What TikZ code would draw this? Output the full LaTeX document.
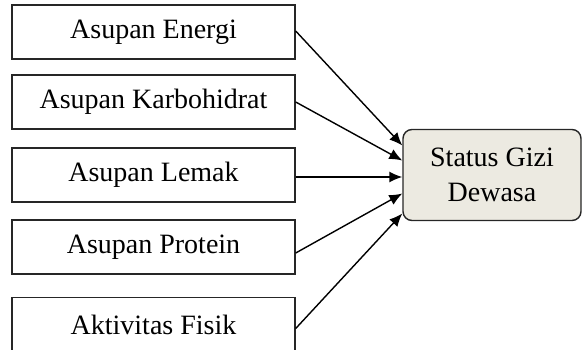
\documentclass[tikz,border=0pt]{standalone}
\usepackage{fontspec}
\setmainfont{Liberation Serif}
\usetikzlibrary{arrows.meta}
\begin{document}
\begin{tikzpicture}[
  box/.style={rectangle, draw=black!85, line width=1.4bp, minimum width=283bp, minimum height=54bp, inner sep=0pt, font=\fontsize{28bp}{35bp}\selectfont},
  result/.style={rectangle, rounded corners=9bp, draw=black!85, fill=statusfill, line width=1.4bp, minimum width=178bp, minimum height=91bp, align=center, font=\fontsize{28bp}{35bp}\selectfont},
  >={Latex[length=13bp,width=11bp]},
  link/.style={->, line width=1.4bp}
]
\definecolor{statusfill}{HTML}{ECEAE1}
\useasboundingbox (0,0) rectangle (582bp,-350bp);

% Input variables
\node[box] (energi) at (153.5bp,-32bp) {Asupan Energi};
\node[box, below of=energi, node distance=70bp] (karbo) {Asupan Karbohidrat};
\node[box, below of=karbo, node distance=73bp] (lemak) {Asupan Lemak};
\node[box, below of=lemak, node distance=72bp] (protein) {Asupan Protein};
\node[box, below of=protein, node distance=77.5bp] (aktivitas) {Aktivitas Fisik};

% Outcome
\node[result, right of=lemak, node distance=338.5bp] (status) {Status Gizi\\Dewasa};

% Connections
\draw[link] ([yshift=1bp]energi.east) -- ([yshift=29.5bp]status.west);
\draw[link] (karbo.east) -- ([yshift=14.5bp]status.west);
\draw[link] ([yshift=-2bp]lemak.east) -- ([yshift=-2bp]status.west);
\draw[link] ([yshift=-6bp]protein.east) -- ([yshift=-18.5bp]status.west);
\draw[link] ([yshift=-4bp]aktivitas.east) -- ([yshift=-38.5bp]status.west);
\end{tikzpicture}
\end{document}
